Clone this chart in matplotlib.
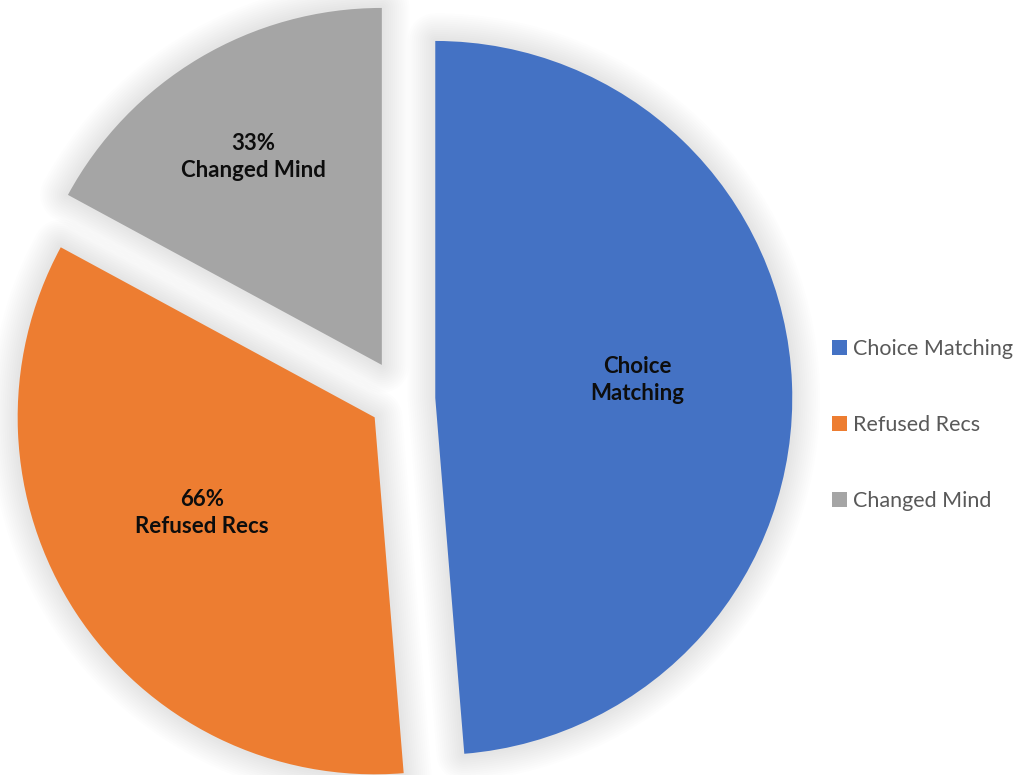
import matplotlib
matplotlib.use("Agg")
import matplotlib.pyplot as plt
from matplotlib.patches import Wedge

categories = ["Choice Matching", "Refused Recs", "Changed Mind"]
values = [0.94, 0.66, 0.33]
show_value = [False, True, True]
colors = ["#4472C4", "#ED7D31", "#A5A5A5"]
explode_px = [33, 33, 40]

W, H = 1017, 775
fig = plt.figure(figsize=(W / 100, H / 100), dpi=100)
ax = fig.add_axes([0, 0, 1, 1])

radius = 357
center = (402.3, H - 399.3)

wedges, _ = ax.pie(
    values,
    colors=colors,
    startangle=90,
    counterclock=False,
    radius=radius,
    center=center,
    explode=explode_px,
    wedgeprops=dict(linewidth=0),
    frame=False,
)

# soft shadow behind each slice
for w in wedges:
    w.set_zorder(3)
    for lw in range(40, 2, -3):
        sh = Wedge(w.center, w.r, w.theta1, w.theta2,
                   facecolor="none", edgecolor=(0, 0, 0, 0.008),
                   linewidth=lw, joinstyle="round", zorder=1)
        ax.add_patch(sh)

# slice labels
label_pos = [(637, H - 380), (202, H - 513), (253, H - 157)]
label_font = ["Lato", "DejaVu Sans"]
for name, v, flag, (lx, ly) in zip(categories, values, show_value, label_pos):
    txt = f"{round(v * 100)}%\n{name}" if flag else name.replace(" ", "\n")
    ax.text(lx, ly, txt, ha="center", va="center", fontsize=16,
            fontweight="bold", color="#0d0d0d", family=label_font,
            linespacing=1.4, zorder=5)

ax.set_xlim(0, W)
ax.set_ylim(0, H)
ax.set_aspect("equal")
ax.axis("off")

leg = ax.legend(wedges, categories, loc="center left",
                bbox_to_anchor=(832 / W, 1 - 425 / H), frameon=False,
                prop=dict(family=label_font, size=15.5),
                handlelength=0.68, handleheight=0.68, handletextpad=0.3,
                labelspacing=2.6, borderpad=0, borderaxespad=0)
for t in leg.get_texts():
    t.set_color("#595959")

fig.savefig("out.png", dpi=100, facecolor="white")
